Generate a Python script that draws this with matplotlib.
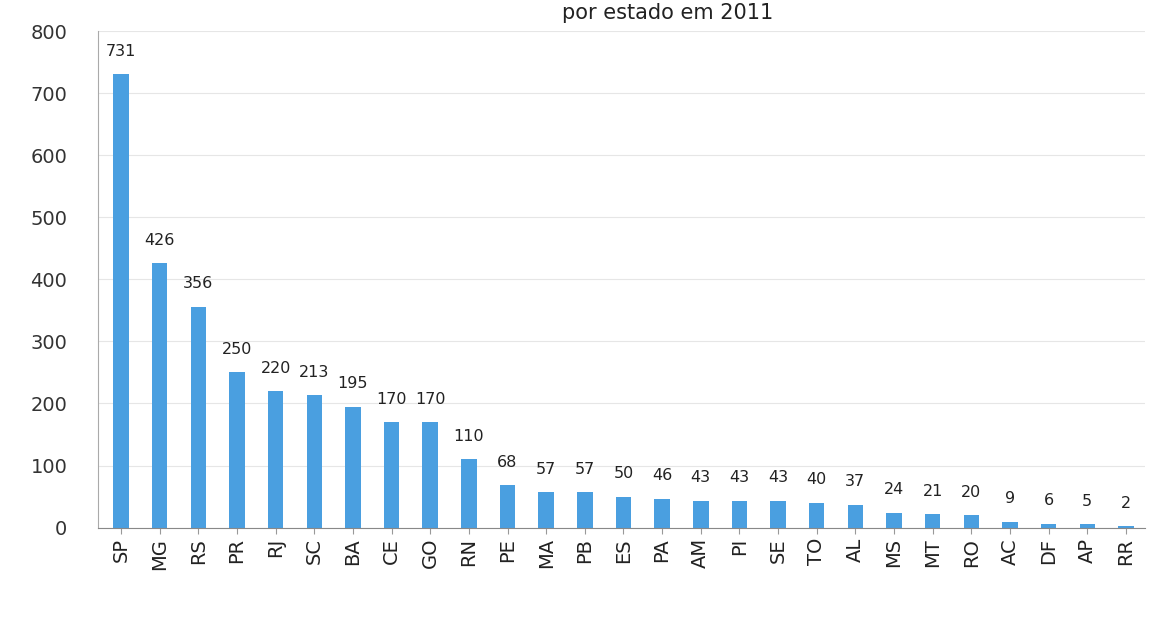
import matplotlib.pyplot as plt

estados = ['SP', 'MG', 'RS', 'PR', 'RJ', 'SC', 'BA', 'CE', 'GO', 'RN', 'PE', 'MA', 'PB',
           'ES', 'PA', 'AM', 'PI', 'SE', 'TO', 'AL', 'MS', 'MT', 'RO', 'AC', 'DF', 'AP', 'RR']
valores = [731, 426, 356, 250, 220, 213, 195, 170, 170, 110, 68, 57, 57,
           50, 46, 43, 43, 43, 40, 37, 24, 21, 20, 9, 6, 5, 2]

fig = plt.figure(figsize=(11.51, 6.28), dpi=100)
ax = fig.add_axes([0.085, 0.16, 0.91, 0.79])

x = range(len(estados))
ax.bar(x, valores, width=0.4, color='#4a9fe0', zorder=2)

for i, v in enumerate(valores):
    ax.text(i, v + 25, str(v), ha='center', va='bottom', fontsize=11.5, color='#222222')

ax.set_xticks(list(x))
ax.set_xticklabels(estados, rotation=90, fontsize=14, color='#222222')
ax.set_yticks(range(0, 900, 100))
ax.tick_params(axis='y', labelsize=14, colors='#333333', length=0, pad=22)
ax.tick_params(axis='x', length=4, color='#999999')
ax.set_ylim(0, 800)
ax.set_xlim(-0.6, len(estados) - 0.5)
ax.grid(axis='y', color='#e6e6e6', linewidth=0.8, zorder=0)

for s in ['top', 'right']:
    ax.spines[s].set_visible(False)
ax.spines['left'].set_color('#aaaaaa')
ax.spines['bottom'].set_color('#888888')

fig.text(0.58, 0.995, 'por estado em 2011', ha='center', va='top', fontsize=15, color='#222222')

fig.savefig('out.png')
